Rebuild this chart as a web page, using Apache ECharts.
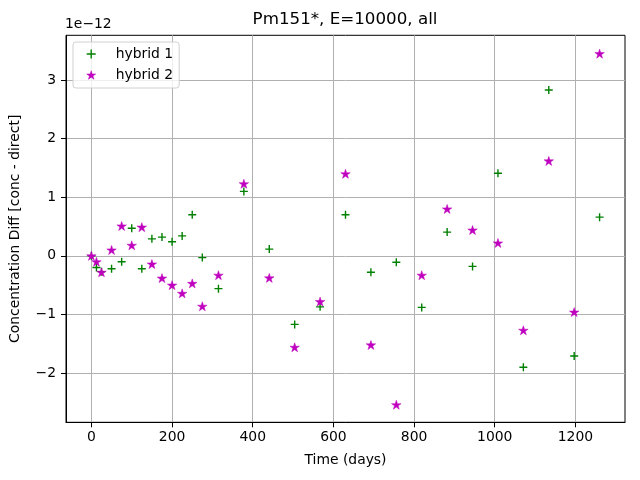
<!DOCTYPE html>
<html>
<head>
<meta charset="utf-8">
<script src="https://cdn.jsdelivr.net/npm/echarts@6/dist/echarts.min.js"></script>
<style>
  html, body { margin: 0; padding: 0; background: #fff; }
  #container { width: 640px; height: 480px; }
</style>
</head>
<body>
<div id="container"></div>
<script>
// values in units of 1e-12
var days = [0, 12.5, 25, 50, 75, 100, 125, 150, 175, 200, 225, 250, 275, 315,
    378, 441, 504, 567, 630, 693, 756, 819, 882, 945, 1008, 1071, 1134, 1197, 1260];
var hybrid1 = [0.0, -0.2, -0.27, -0.22, -0.1, 0.47, -0.22, 0.29, 0.32, 0.24, 0.34, 0.70, -0.03, -0.56,
    1.10, 0.115, -1.17, -0.87, 0.70, -0.28, -0.11, -0.88, 0.405, -0.18, 1.41, -1.90, 2.83, -1.71, 0.66];
var hybrid2 = [0.0, -0.1, -0.28, 0.1, 0.51, 0.18, 0.49, -0.14, -0.38, -0.50, -0.64, -0.47, -0.86, -0.33,
    1.23, -0.376, -1.56, -0.78, 1.40, -1.52, -2.54, -0.33, 0.80, 0.44, 0.22, -1.27, 1.62, -0.96, 3.45];
var xTicks = [0, 200, 400, 600, 800, 1000, 1200];
var yTicks = [-2, -1, 0, 1, 2, 3];

var dom = document.getElementById('container');
var myChart = echarts.init(dom);

var font = 'DejaVu Sans';
var plusPath = 'path://M0,-1L0,1M-1,0L1,0';
var starPath = 'path://M0,-1L0.2245,-0.309L0.951,-0.309L0.363,0.118L0.588,0.809L0,0.382L-0.588,0.809L-0.363,0.118L-0.951,-0.309L-0.2245,-0.309Z';

function pairs(xs, ys) {
    return xs.map(function (x, i) { return [x, ys[i]]; });
}
function minus(v) {
    return String(v).replace('-', '\u2212');
}

option = {
    animation: false,
    title: {
        text: 'Pm151*, E=10000, all',
        left: 345, top: 11, textAlign: 'center', padding: 0,
        textStyle: { fontFamily: font, fontSize: 16.7, fontWeight: 'normal', color: '#000' }
    },
    graphic: [{
        type: 'text', left: 65, top: 17,
        style: { text: '1e\u221212', fontFamily: font, fontSize: 13.9, fill: '#000' }
    }],
    legend: {
        orient: 'vertical',
        left: 73, top: 42,
        padding: [4, 6, 5, 13],
        itemGap: 5,
        borderColor: '#d0d0d0', borderWidth: 1, borderRadius: 3,
        backgroundColor: 'rgba(255,255,255,0.8)',
        textStyle: { fontFamily: font, fontSize: 13.9, color: '#000', lineHeight: 16, padding: [0, 0, 0, 15] },
        data: [
            { name: 'hybrid 1', itemStyle: { borderWidth: 1.4 } },
            { name: 'hybrid 2', itemStyle: { borderWidth: 0.5 } }
        ],
        itemWidth: 9, itemHeight: 9
    },
    grid: {
        left: 64, right: 15, top: 35.3, bottom: 57.7,
        show: true, borderColor: '#000', borderWidth: 1
    },
    xAxis: {
        type: 'value',
        min: -63, max: 1323,
        name: 'Time (days)', nameLocation: 'middle', nameGap: 31,
        nameTextStyle: { fontFamily: font, fontSize: 13.9, color: '#000' },
        axisLine: { show: true, onZero: false, lineStyle: { color: '#000', width: 1 } },
        axisTick: { show: true, length: 5, customValues: xTicks, lineStyle: { color: '#000' } },
        axisLabel: { customValues: xTicks, margin: 8, fontFamily: font, fontSize: 13.9, color: '#000', formatter: minus },
        splitLine: { show: true, lineStyle: { color: '#b0b0b0', width: 1 } }
    },
    yAxis: {
        type: 'value',
        min: -2.84, max: 3.763,
        name: 'Concentration Diff [conc - direct]', nameLocation: 'middle', nameGap: 44,
        nameTextStyle: { fontFamily: font, fontSize: 13.9, color: '#000' },
        axisLine: { show: true, onZero: false, lineStyle: { color: '#000', width: 1 } },
        axisTick: { show: true, length: 5, customValues: yTicks, lineStyle: { color: '#000' } },
        axisLabel: { customValues: yTicks, margin: 10, fontFamily: font, fontSize: 13.9, color: '#000', formatter: minus },
        splitLine: { show: true, lineStyle: { color: '#b0b0b0', width: 1 } }
    },
    series: [{
        name: 'hybrid 1',
        type: 'scatter',
        data: pairs(days, hybrid1),
        symbol: plusPath,
        symbolSize: 8,
        itemStyle: { color: 'rgba(0,0,0,0)', borderColor: '#008000', borderWidth: 1.4, opacity: 1 }
    }, {
        name: 'hybrid 2',
        type: 'scatter',
        data: pairs(days, hybrid2),
        symbol: starPath,
        symbolSize: [9.5, 9],
        itemStyle: { color: '#bf00bf', borderColor: '#bf00bf', borderWidth: 0.5, opacity: 1 }
    }]
};
myChart.setOption(option);

window.addEventListener('resize', function () {
    myChart.resize();
});
</script>
</body>
</html>
